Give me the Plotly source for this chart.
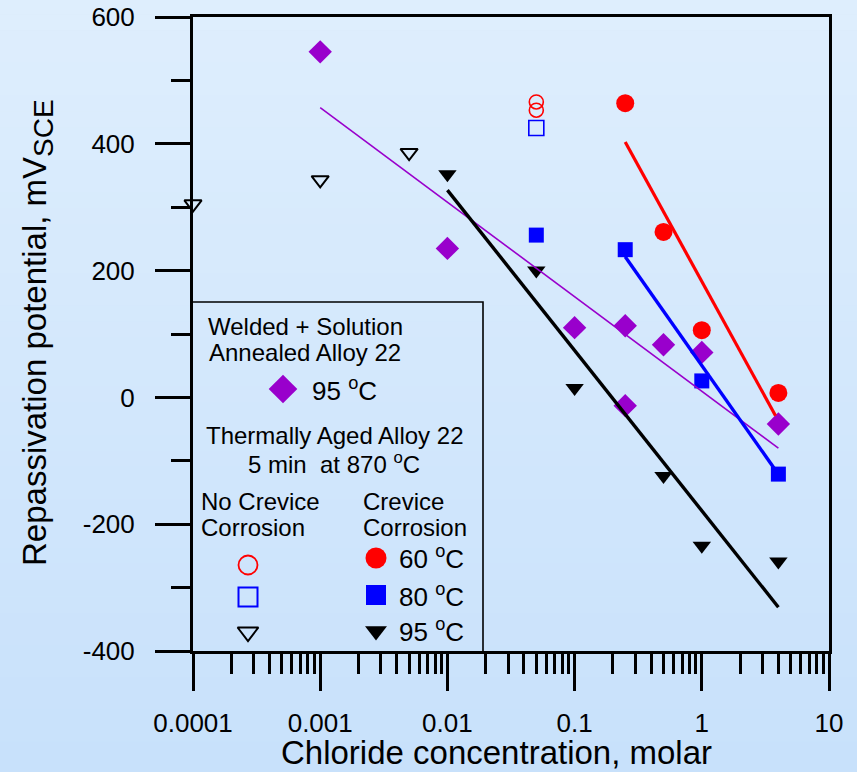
import plotly.graph_objects as go

FONT = "Liberation Sans, Arial, sans-serif"

# ---------------- data ----------------
# Welded + solution annealed Alloy 22, 95 C
ws_x = [0.001, 0.01, 0.1, 0.25, 0.25, 0.5, 1, 4]
ws_y = [545, 235, 110, 113, -13, 83, 71, -42]

# Thermally aged, crevice corrosion
cc60_x = [0.25, 0.5, 1, 4]
cc60_y = [464, 261, 106, 7]
cc80_x = [0.05, 0.25, 1, 4]
cc80_y = [256, 233, 26, -121]
cc95_x = [0.01, 0.05, 0.1, 0.5, 1, 4]
cc95_y = [352, 200, 15, -124, -234, -259]

# Thermally aged, no crevice corrosion
nc60_x = [0.05, 0.05]
nc60_y = [466, 453]
nc80_x = [0.05]
nc80_y = [425]
nc95_x = [0.0001, 0.001, 0.005]
nc95_y = [305, 343, 386]

# fitted trend lines (end points)
fit_ws_x = [0.001, 4]
fit_ws_y = [457, -80]
fit60_x = [0.25, 3.8]
fit60_y = [403, -29]
fit80_x = [0.25, 3.8]
fit80_y = [222, -115]
fit95_x = [0.01, 4]
fit95_y = [327, -331]

x_tickvals = [1e-4, 1e-3, 1e-2, 0.1, 1, 10]
x_ticktext = ["0.0001", "0.001", "0.01", "0.1", "1", "10"]
y_tickvals = [-400, -200, 0, 200, 400, 600]
y_ticktext = ["-400", "-200", "0", "200", "400", "600"]
y_minorvals = [-300, -100, 100, 300, 500]

PURPLE = "#9900CC"
RED = "#FF0000"
BLUE = "#0000FF"
BLACK = "#000000"
BG = "rgb(211,231,252)"

# ---------------- layout geometry ----------------
W, H = 857, 772
ML, MR, MT, MB = 193, 28, 17, 121
PW, PH = W - ML - MR, H - MT - MB


def pp(px, py):
    """pixel position -> plot-area paper fraction (layout helper)"""
    return (px - ML) / PW, (H - MB - py) / PH


fig = go.Figure()

# ---------------- data marks ----------------
def pts(x, y, symbol, size, color, open_=False, lw=0):
    if open_:
        marker = dict(symbol=symbol, size=size, color="rgba(0,0,0,0)",
                      line=dict(color=color, width=lw))
    else:
        marker = dict(symbol=symbol, size=size, color=color, line=dict(width=0))
    return go.Scatter(x=x, y=y, mode="markers", marker=marker,
                      cliponaxis=False, showlegend=False, hoverinfo="skip")


fig.add_trace(pts(ws_x, ws_y, "diamond", 18, PURPLE))
fig.add_trace(pts(cc60_x, cc60_y, "circle", 18, RED))
fig.add_trace(pts(cc80_x, cc80_y, "square", 15, BLUE))
fig.add_trace(pts(cc95_x, cc95_y, "triangle-down", 16, BLACK))
fig.add_trace(pts(nc60_x, nc60_y, "circle", 14, RED, True, 1.6))
fig.add_trace(pts(nc80_x, nc80_y, "square", 15, BLUE, True, 1.6))
fig.add_trace(pts(nc95_x, nc95_y, "triangle-down", 15, BLACK, True, 2))


def fit(x, y, color, w):
    return go.Scatter(x=x, y=y, mode="lines", line=dict(color=color, width=w),
                      showlegend=False, hoverinfo="skip")


fig.add_trace(fit(fit_ws_x, fit_ws_y, PURPLE, 1.6))
fig.add_trace(fit(fit60_x, fit60_y, RED, 3.2))
fig.add_trace(fit(fit80_x, fit80_y, BLUE, 3.4))
fig.add_trace(fit(fit95_x, fit95_y, BLACK, 3.4))

# ---------------- hand-made legend (overlay axes in paper units) ----------------
def leg(px, py, symbol, size, color, open_=False, lw=0):
    x, y = pp(px, py)
    t = pts([x], [y], symbol, size, color, open_, lw)
    t.update(xaxis="x2", yaxis="y2")
    return t


fig.add_trace(leg(283, 389, "diamond", 22, PURPLE))
fig.add_trace(leg(248, 565, "circle", 19, RED, True, 1.8))
fig.add_trace(leg(248, 597, "square", 19, BLUE, True, 2))
fig.add_trace(leg(248, 632, "triangle-down", 18, BLACK, True, 2))
fig.add_trace(leg(376, 558, "circle", 21, RED))
fig.add_trace(leg(376, 595, "square", 20, BLUE))
fig.add_trace(leg(376, 631, "triangle-down", 19, BLACK))

annotations = []


def note(text, px, py, size=24, xanchor="center", angle=0):
    x, y = pp(px, py)
    annotations.append(dict(text=text, x=x, y=y, xref="paper", yref="paper",
                            xanchor=xanchor, yanchor="middle", showarrow=False,
                            textangle=angle,
                            font=dict(family=FONT, size=size, color="black")))


note("Welded + Solution", 305, 326)
note("Annealed Alloy 22", 305, 352)
note("95 <sup>o</sup>C", 310, 389, 26, "left")
note("Thermally Aged Alloy 22", 334, 435)
note("5 min  at 870 <sup>o</sup>C", 334, 463)
note("No Crevice", 199, 501, 24, "left")
note("Corrosion", 199, 527, 24, "left")
note("Crevice", 361, 501, 24, "left")
note("Corrosion", 361, 527, 24, "left")
note("60 <sup>o</sup>C", 397, 557, 26, "left")
note("80 <sup>o</sup>C", 397, 595, 26, "left")
note("95 <sup>o</sup>C", 397, 630, 26, "left")

# axis titles
note("Chloride concentration, molar", 496, 753, 33)
note("Repassivation potential, mV<sub><span style=\"font-size:28px\">SCE</span></sub>",
     37, 333, 33, "center", -90)

# ---------------- shapes: background gradient + legend box ----------------
shapes = []
top = (222, 238, 253)
bot = (200, 225, 251)
nb = 48
x0f, _ = pp(-2, 0)
x1f, _ = pp(W + 2, 0)
for i in range(nb):
    f = i / (nb - 1)
    c = tuple(round(top[k] + (bot[k] - top[k]) * f) for k in range(3))
    ya = pp(0, -2 + i * (H + 4) / nb)[1]
    yb = pp(0, -2 + (i + 1) * (H + 4) / nb + 0.5)[1]
    shapes.append(dict(type="rect", xref="paper", yref="paper", layer="below",
                       x0=x0f, x1=x1f, y0=yb, y1=ya,
                       fillcolor="rgb(%d,%d,%d)" % c, line=dict(width=0)))

bx0, by0 = pp(192, 652)
bx1, by1 = pp(483, 302)
shapes.append(dict(type="rect", xref="paper", yref="paper", layer="above",
                   x0=bx0, x1=bx1, y0=by0, y1=by1,
                   line=dict(color="black", width=1.6), fillcolor="rgba(0,0,0,0)"))

x_minorvals = [m * 10 ** d for d in range(-4, 1) for m in range(2, 10)]

fig.update_layout(
    width=W, height=H,
    margin=dict(l=ML, r=MR, t=MT, b=MB, pad=0, autoexpand=False),
    paper_bgcolor=BG,
    plot_bgcolor="rgba(0,0,0,0)",
    font=dict(family=FONT, color="black"),
    showlegend=False,
    shapes=shapes,
    annotations=annotations,
    xaxis=dict(
        type="log", range=[-4, 1], automargin=False,
        showline=True, linewidth=3, linecolor="black", mirror=True,
        showgrid=False, zeroline=False,
        ticks="outside", ticklen=37, tickwidth=3, tickcolor="black",
        tickmode="array", tickvals=x_tickvals, ticktext=x_ticktext,
        tickfont=dict(family=FONT, size=26, color="black"),
        ticklabelstandoff=10,
        minor=dict(tickmode="array", tickvals=x_minorvals, ticks="outside",
                   ticklen=20, tickwidth=3, tickcolor="black", showgrid=False),
    ),
    yaxis=dict(
        range=[-400, 600], automargin=False,
        showline=True, linewidth=3, linecolor="black", mirror=True,
        showgrid=False, zeroline=False,
        ticks="outside", ticklen=35, tickwidth=3, tickcolor="black",
        tickmode="array", tickvals=y_tickvals, ticktext=y_ticktext,
        tickfont=dict(family=FONT, size=26, color="black"),
        ticklabelstandoff=15,
        minor=dict(tickmode="array", tickvals=y_minorvals, ticks="outside",
                   ticklen=19, tickwidth=3, tickcolor="black", showgrid=False),
    ),
    xaxis2=dict(overlaying="x", anchor="y2", range=[0, 1], visible=False,
                fixedrange=True, automargin=False),
    yaxis2=dict(overlaying="y", anchor="x2", range=[0, 1], visible=False,
                fixedrange=True, automargin=False),
)

post = ("document.body.style.margin='0';document.body.style.padding='0';"
        "document.body.style.overflow='hidden';"
        "document.body.style.background='" + BG + "';")

fig.write_html("out.html", post_script=post, config={"displayModeBar": False})
